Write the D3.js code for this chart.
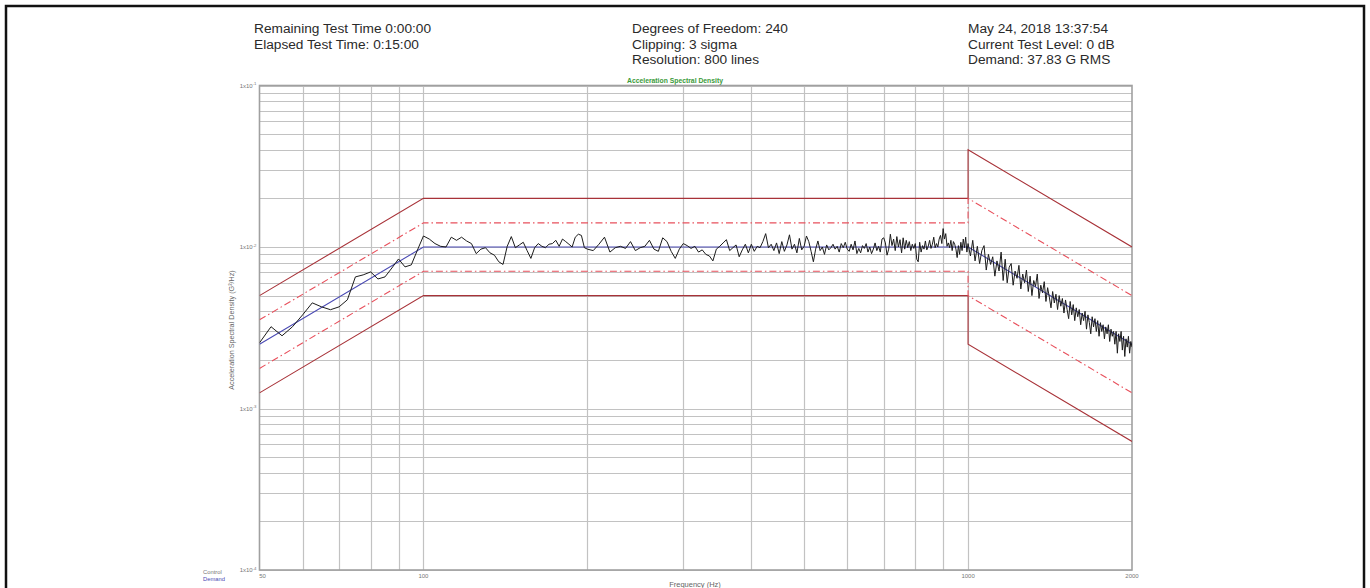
<!DOCTYPE html>
<html>
<head>
<meta charset="utf-8">
<script src="https://cdn.jsdelivr.net/npm/d3@7"></script>
<style>
  body { margin: 0; background: #fff; }
  svg { display: block; font-family: "Liberation Sans", Arial, sans-serif; }
</style>
</head>
<body>
<script>
// header texts
const headerLeft = ["Remaining Test Time 0:00:00", "Elapsed Test Time: 0:15:00"];
const headerMid = ["Degrees of Freedom: 240", "Clipping: 3 sigma", "Resolution: 800 lines"];
const headerRight = ["May 24, 2018 13:37:54", "Current Test Level: 0 dB", "Demand: 37.83 G RMS"];

// profile breakpoints [Hz, G^2/Hz]
const demandProfile = [[50, 0.0025], [100, 0.01], [1000, 0.01], [2000, 0.0025]];
const upperAbort = [[50, 0.005], [100, 0.02], [1000, 0.02], [1000, 0.04], [2000, 0.01]];
const upperAlarm = [[50, 0.00354], [100, 0.0141], [1000, 0.0141], [1000, 0.02], [2000, 0.005]];
const lowerAlarm = [[50, 0.00177], [100, 0.00707], [1000, 0.00707], [1000, 0.005], [2000, 0.00125]];
const lowerAbort = [[50, 0.00125], [100, 0.005], [1000, 0.005], [1000, 0.0025], [2000, 0.000625]];

const controlLow = { start: 50, step: 2.5, asd: [
  .00255, .00321, .00282, .00321, .0038, .00451, .00426, .00409, .00426, .00471,
  .00653, .00672, .00701, .00634, .00653, .00741, .00843, .00753, .00775, .00958,
  .0117, .0112, .0105, .0101, .0100, .0115, .0110, .0115, .0109, .0105,
  .0091, .0097, .0099, .0092, .0089, .0081, .0078, .0101, .0116, .0099,
  .0103, .0107, .0095, .0085, .0099, .0105, .0101, .0099, .0104, .0105,
  .0110, .0101, .0112, .0108, .0104, .0100, .0115, .0120, .0118, .0099, .0097
]};
const controlMid = { start: 205, step: 5, asd: [
  .0095, .0104, .0115, .0093, .0099, .0101, .0098, .0108, .0095, .0099, .0101, .0110, .0097, .0094, .0114, .0108, .0094, .0085, .0097, .0105,
  .0102, .0098, .0101, .0093, .0096, .0090, .0088, .0082, .0097, .0101, .0106, .0111, .0095, .0099, .0103, .0087, .0096, .0104, .0092, .0104,
  .0094, .0101, .0099, .0108, .0121, .0099, .0104, .0095, .0106, .0091, .0108, .0094, .0103, .0119, .0097, .0104, .0092, .0113, .0096, .0101,
  .0117, .0108, .0094, .0081, .0097, .0109, .0095, .0100, .0090, .0103, .0096, .0099, .0104, .0097, .0101, .0093, .0105, .0099, .0107, .0097,
  .0094, .0104, .0096, .0109, .0091, .0098, .0092, .0102, .0098, .0105, .0093, .0100, .0091, .0097, .0106, .0095, .0101, .0093, .0112, .0114,
  .0106, .0089, .0097, .0120, .0102, .0112, .0095, .0116, .0100, .0111, .0092, .0114, .0097, .0110, .0099, .0108, .0095, .0104, .0098, .0105,
  .0084, .0081, .0107, .0093, .0102, .0097, .0109, .0096, .0101, .0110, .0098, .0104, .0115, .0099, .0105, .0100, .0112, .0118, .0105, .0130,
  .0112, .0121, .0101, .0106, .0099, .0110, .0095, .0108, .0104, .0097, .0086, .0102, .0090, .0107, .0095, .0112, .0099, .0115, .0093, .0105
]};
const controlHigh = { start: 1010, step: 10, asd: [
  .0088, .0110, .0082, .0101, .0079, .0095, .0102, .0072, .0090, .0078,
  .0087, .0066, .0082, .0071, .0093, .0062, .0084, .0060, .0075, .0079,
  .0058, .0071, .0064, .0077, .0055, .0068, .0060, .0072, .0053, .0066,
  .0050, .0062, .0057, .0068, .0048, .0058, .0052, .0061, .0046, .0056,
  .0049, .0042, .0053, .0045, .0051, .0041, .0050, .0043, .0048, .0039,
  .0047, .0041, .0036, .0046, .0038, .0044, .0035, .0042, .0037, .0041,
  .0033, .0039, .0035, .0040, .0031, .0038, .0034, .0029, .0037, .0032,
  .0036, .0030, .0035, .0028, .0034, .0030, .0033, .0027, .0032, .0029,
  .0033, .0026, .0031, .0028, .0030, .0025, .0030, .0022, .0029, .0026,
  .0030, .0023, .0028, .0021, .0027, .0024, .0028, .0022, .0026, .0024
]};

const xTickLabels = [50, 100, 1000, 2000];
const yTickLabels = [1e-4, 1e-3, 1e-2, 1e-1];

const width = 1370, height = 588;
const plot = { left: 259.5, right: 1132, top: 85.5, bottom: 570 };

const svg = d3.select("body").append("svg")
  .attr("width", width)
  .attr("height", height);

svg.append("rect").attr("width", width).attr("height", height).attr("fill", "#fff");

// outer frame of the screenshot
svg.append("rect")
  .attr("x", 6).attr("y", 6)
  .attr("width", 1358).attr("height", 620)
  .attr("fill", "none")
  .attr("stroke", "#111")
  .attr("stroke-width", 2.5);

const x = d3.scaleLog().domain([50, 2000]).range([plot.left, plot.right]);
const y = d3.scaleLog().domain([1e-4, 1e-1]).range([plot.bottom, plot.top]);

// header block
function header(lines, x0) {
  svg.append("g").selectAll("text")
    .data(lines)
    .enter().append("text")
    .attr("x", x0)
    .attr("y", (d, i) => 33 + i * 15.5)
    .attr("font-size", 13.7)
    .attr("fill", "#2a2a2a")
    .text(d => d);
}
header(headerLeft, 254);
header(headerMid, 632);
header(headerRight, 968);

// chart title
svg.append("text")
  .attr("x", 675).attr("y", 83)
  .attr("text-anchor", "middle")
  .attr("font-size", 6.8)
  .attr("font-weight", "bold")
  .attr("fill", "#3a9a3a")
  .text("Acceleration Spectral Density");

// grid
const grid = svg.append("g");
grid.selectAll("line.h")
  .data(y.ticks())
  .enter().append("line")
  .attr("x1", plot.left).attr("x2", plot.right)
  .attr("y1", d => Math.round(y(d)) + 0.5).attr("y2", d => Math.round(y(d)) + 0.5)
  .attr("stroke", "#c2c2c2")
  .attr("stroke-width", 1.2);

grid.selectAll("line.v")
  .data(x.ticks().filter(d => d > 50 && d <= 1000))
  .enter().append("line")
  .attr("x1", d => Math.round(x(d)) + 0.5).attr("x2", d => Math.round(x(d)) + 0.5)
  .attr("y1", plot.top).attr("y2", plot.bottom)
  .attr("stroke", "#c2c2c2")
  .attr("stroke-width", 1.2);

// plot frame
svg.append("rect")
  .attr("x", plot.left).attr("y", plot.top)
  .attr("width", plot.right - plot.left).attr("height", plot.bottom - plot.top)
  .attr("fill", "none")
  .attr("stroke", "#a0a0a0")
  .attr("stroke-width", 1.6);

svg.append("defs").append("clipPath").attr("id", "clip")
  .append("rect")
  .attr("x", plot.left).attr("y", plot.top)
  .attr("width", plot.right - plot.left).attr("height", plot.bottom - plot.top);

const line = d3.line().x(d => x(d[0])).y(d => y(d[1]));
const layer = svg.append("g").attr("clip-path", "url(#clip)");

[upperAbort, lowerAbort].forEach(p => {
  layer.append("path")
    .attr("d", line(p))
    .attr("fill", "none")
    .attr("stroke", "#a83238")
    .attr("stroke-width", 1.1);
});
[upperAlarm, lowerAlarm].forEach(p => {
  layer.append("path")
    .attr("d", line(p))
    .attr("fill", "none")
    .attr("stroke", "#e8505c")
    .attr("stroke-width", 1.1)
    .attr("stroke-dasharray", "7,3,1.5,3");
});

layer.append("path")
  .attr("d", line(demandProfile))
  .attr("fill", "none")
  .attr("stroke", "#4a4ab4")
  .attr("stroke-width", 1.1);

// control trace
const control = [];
[controlLow, controlMid, controlHigh].forEach(band => {
  band.asd.forEach((v, i) => control.push([band.start + i * band.step, v]));
});
layer.append("path")
  .attr("d", line(control))
  .attr("fill", "none")
  .attr("stroke", "#1c1c1c")
  .attr("stroke-width", 1);

// y tick labels 1x10^n
const yl = svg.append("g").selectAll("text")
  .data(yTickLabels)
  .enter().append("text")
  .attr("x", plot.left - 3)
  .attr("y", d => y(d) + 2)
  .attr("text-anchor", "end")
  .attr("font-size", 6)
  .attr("fill", "#777");
yl.append("tspan").text("1x10");
yl.append("tspan")
  .attr("dy", -2.5)
  .attr("font-size", 4.3)
  .text(d => Math.round(Math.log10(d)));

// x tick labels
svg.append("g").selectAll("text")
  .data(xTickLabels)
  .enter().append("text")
  .attr("x", d => d === 50 ? x(d) + 3 : x(d))
  .attr("y", 578)
  .attr("text-anchor", "middle")
  .attr("font-size", 6)
  .attr("fill", "#777")
  .text(d => d);

// axis titles
svg.append("text")
  .attr("x", 695).attr("y", 587)
  .attr("text-anchor", "middle")
  .attr("font-size", 7.5)
  .attr("fill", "#666")
  .text("Frequency (Hz)");

svg.append("text")
  .attr("transform", "translate(234,330) rotate(-90)")
  .attr("text-anchor", "middle")
  .attr("font-size", 7.2)
  .attr("fill", "#666")
  .text("Acceleration Spectral Density (G²/Hz)");

// legend
svg.append("text").attr("x", 203).attr("y", 574)
  .attr("font-size", 5.8).attr("fill", "#777").text("Control");
svg.append("text").attr("x", 203).attr("y", 580.5)
  .attr("font-size", 5.8).attr("fill", "#4a4ab4").text("Demand");
</script>
</body>
</html>
